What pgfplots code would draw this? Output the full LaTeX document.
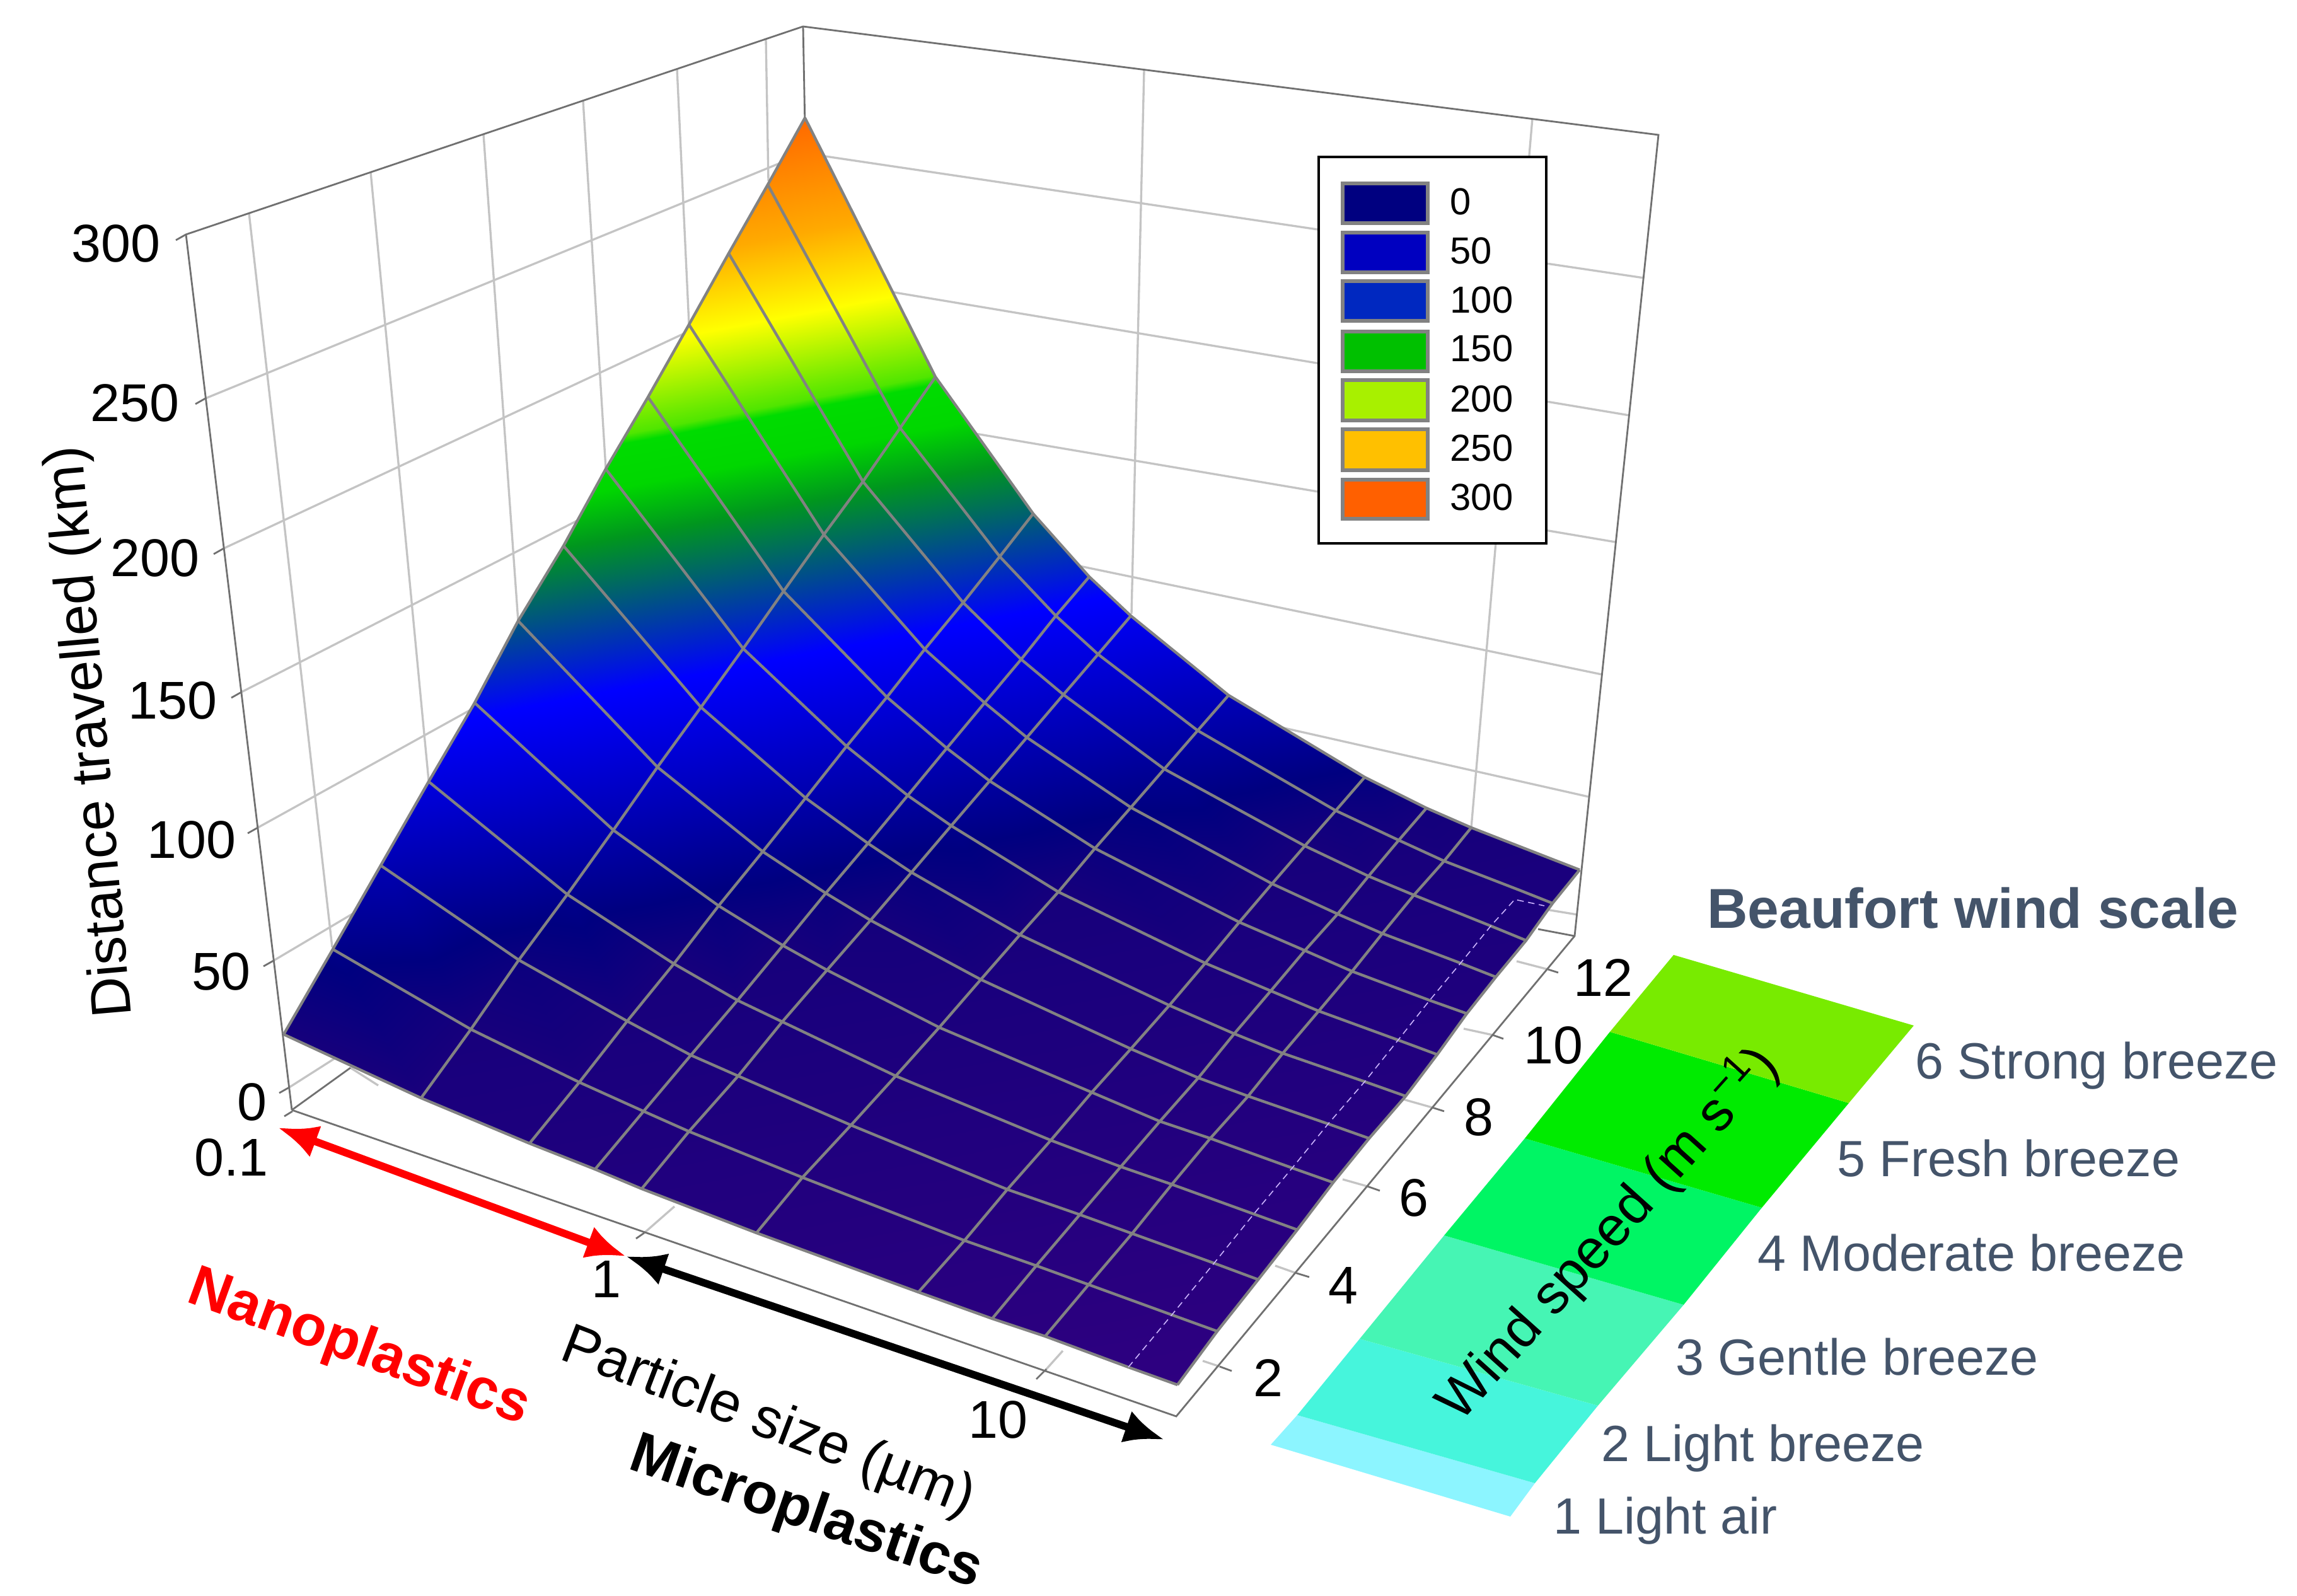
\documentclass[border=0pt]{standalone}
\usepackage{fontspec}
\setmainfont{Liberation Sans}
\usepackage{pgfplots}
\usepackage{pgfplotstable}
\usetikzlibrary{arrows.meta}
\pgfplotsset{compat=1.18}

\definecolor{gridc}{RGB}{196,196,196}
\definecolor{boxc}{RGB}{112,112,112}
\definecolor{meshc}{RGB}{130,130,130}
\definecolor{slate}{RGB}{68,84,106}
\newcommand{\fs}[1]{\fontsize{#1}{#1}\selectfont}

% surface vertices: px py are positions on the page (perspective view),
% km is the distance. 13 wind rows, 11 particle sizes per row
\pgfplotstableread{
px py km
450 1641 25.0
668 1742 22.4
840 1814 20.5
944 1855 19.4
1018 1886 18.6
1200 1956 16.7
1457 2050 14.1
1574 2092 12.9
1658 2120 12.1
1790 2169 10.8
1868 2197 10.0
528 1506 49.6
747 1633 24.1
919 1717 22.0
1021 1763 20.8
1093 1795 20.0
1273 1868 18.0
1530 1968 15.3
1644 2008 14.2
1727 2038 13.4
1859 2086 12.0
1931 2112 11.3
604 1373 73.6
823 1523 34.8
995 1620 23.5
1096 1674 22.2
1171 1707 21.3
1350 1785 19.3
1598 1887 16.6
1713 1927 15.4
1796 1957 14.6
1926 2004 13.3
1996 2030 12.6
680 1240 97.9
900 1419 52.9
1069 1529 24.9
1170 1587 23.5
1241 1621 22.6
1421 1707 20.4
1667 1809 17.7
1778 1851 16.6
1859 1879 15.8
1989 1926 14.5
2058 1951 13.8
753 1115 120.4
973 1317 70.8
1140 1437 39.9
1242 1500 24.8
1312 1539 23.9
1490 1630 21.6
1732 1733 18.9
1840 1779 17.7
1920 1806 16.9
2050 1853 15.6
2115 1876 15.0
822 985 144.3
1043 1217 88.5
1210 1351 54.7
1310 1417 37.4
1381 1460 26.0
1556 1554 22.8
1794 1664 19.9
1901 1710 18.7
1980 1739 17.9
2107 1783 16.7
2172 1806 16.0
894 866 165.6
1112 1122 105.2
1278 1266 69.4
1377 1338 50.8
1446 1384 38.8
1618 1483 23.9
1855 1595 21.0
1958 1640 19.8
2035 1671 19.0
2165 1716 17.7
2230 1739 17.1
961 744 187.8
1179 1029 121.5
1343 1184 83.6
1440 1262 63.9
1509 1310 51.5
1679 1415 24.9
1912 1528 22.0
2016 1572 20.9
2092 1604 20.0
2218 1650 18.7
2280 1673 18.1
1028 630 208.6
1243 938 137.5
1407 1106 97.0
1502 1187 76.9
1570 1239 63.7
1737 1346 35.4
1966 1463 23.0
2070 1508 21.8
2145 1541 21.0
2268 1587 19.7
2327 1608 19.1
1093 515 229.3
1307 848 153.4
1467 1030 110.0
1562 1115 89.1
1629 1170 75.3
1794 1281 46.4
2018 1402 23.9
2122 1450 22.7
2193 1481 21.9
2317 1528 20.6
2373 1550 20.0
1156 402 249.9
1369 764 168.0
1528 956 122.9
1620 1046 100.9
1687 1102 86.9
1847 1220 56.7
2070 1342 24.9
2171 1390 23.6
2243 1420 22.8
2365 1469 21.5
2421 1492 20.9
1218 293 269.8
1428 679 183.1
1586 883 135.5
1675 977 112.9
1742 1038 97.9
1900 1159 67.1
2119 1286 32.7
2219 1333 24.5
2291 1366 23.7
2410 1412 22.4
2463 1433 21.8
1277 187 288.9
1484 598 197.4
1639 815 147.3
1728 915 123.5
1794 977 108.2
1949 1103 76.7
2165 1233 41.9
2263 1282 28.1
2334 1313 24.5
2452 1359 23.2
2506 1380 22.7
}\surfdata

\begin{document}
\begin{tikzpicture}
\begin{axis}[
  scale only axis,
  width=36.44cm, height=25.32cm,
  xmin=0, xmax=3644, ymin=0, ymax=2532,
  y dir=reverse,
  hide axis, clip=false,
  colormap={distance}{
    rgb255(10pt)=(46,0,128);
    rgb255(25pt)=(22,0,124);
    rgb255(45pt)=(0,0,128);
    rgb255(116pt)=(0,0,255);
    rgb255(165pt)=(0,150,30);
    rgb255(181pt)=(0,215,0);
    rgb255(195pt)=(0,220,0);
    rgb255(198pt)=(80,230,0);
    rgb255(226pt)=(255,255,0);
    rgb255(252pt)=(255,170,0);
    rgb255(300pt)=(255,85,0);
  },
  point meta min=10, point meta max=300,
  grid line/.style={gridc, line width=0.95pt},
  box line/.style={boxc, line width=0.8pt},
  wire/.style={meshc, line width=1.25pt, no marks},
]
% page frame, so that the picture keeps the reference's size
\path (0,0) -- (3644,2532);
% left wall
\addplot[grid line] coordinates {(326,632) (1276,243)};
\addplot[grid line] coordinates {(355,870) (1276,440)};
\addplot[grid line] coordinates {(383,1098) (1276,642)};
\addplot[grid line] coordinates {(409,1313) (1276,833)};
\addplot[grid line] coordinates {(434,1524) (1276,1025)};
\addplot[grid line] coordinates {(459,1725) (1276,1205)};
\addplot[grid line] coordinates {(395,338) (527,1503)};
\addplot[grid line] coordinates {(588,273) (680,1238)};
\addplot[grid line] coordinates {(767,213) (822,985)};
\addplot[grid line] coordinates {(925,160) (961,743)};
\addplot[grid line] coordinates {(1074,109) (1093,514)};
\addplot[grid line] coordinates {(1215,62) (1219,287)};
% right wall
\addplot[grid line] coordinates {(1276,243) (2608,441)};
\addplot[grid line] coordinates {(1276,440) (2585,659)};
\addplot[grid line] coordinates {(1276,642) (2563,860)};
\addplot[grid line] coordinates {(1650,885) (2541,1070)};
\addplot[grid line] coordinates {(1900,1124) (2520,1264)};
\addplot[grid line] coordinates {(2300,1418) (2502,1451)};
\addplot[grid line] coordinates {(1815,111) (1795,974)};
\addplot[grid line] coordinates {(2431,188) (2334,1313)};
% floor stubs
\addplot[grid line] coordinates {(1908,2159) (1935,2168)};
\addplot[grid line] coordinates {(2023,2008) (2054,2019)};
\addplot[grid line] coordinates {(2130,1871) (2169,1882)};
\addplot[grid line] coordinates {(2226,1744) (2272,1757)};
\addplot[grid line] coordinates {(2322,1632) (2368,1642)};
\addplot[grid line] coordinates {(2406,1525) (2456,1538)};
\addplot[grid line] coordinates {(1070,1914) (1022,1956)};
\addplot[grid line] coordinates {(1686,2143) (1660,2172)};
\addplot[grid line] coordinates {(556,1694) (600,1722)};
% box
\addplot[box line] coordinates {(463,1761) (295,372) (1274,42) (2631,214) (2498,1485) (1866,2247) (463,1761)};
\addplot[box line] coordinates {(1274,42) (1277,200)};
\addplot[box line] coordinates {(463,1761) (556,1694)};
\addplot[box line] coordinates {(2498,1485) (2440,1474)};

% surface
\addplot[surf, shader=interp, mesh/cols=11, point meta=\thisrow{km}] table[x=px, y=py] {\surfdata};
\pgfplotsinvokeforeach{0,1,2,3,4,5,6,7,8,10}{
  \addplot[wire, x filter/.expression={mod(\coordindex,11)==#1 ? x : nan}] table[x=px, y=py] {\surfdata};
}
\pgfplotsinvokeforeach{0,...,12}{
  \addplot[wire, x filter/.expression={(\coordindex>=11*#1 && \coordindex<11*(#1+1)) ? x : nan}] table[x=px, y=py] {\surfdata};
}
\addplot[color={rgb,255:red,205;green,180;blue,255}, line width=0.45pt, densely dashed] coordinates {
  (1790,2169) (1859,2086) (1926,2004) (1989,1926) (2050,1853) (2107,1783)
  (2165,1716) (2218,1650) (2268,1587) (2317,1528) (2365,1469) (2403,1427) (2450,1437)};

% ticks
\addplot[box line] coordinates {(295,372) (279,381)};
\addplot[box line] coordinates {(326,632) (310,641)};
\addplot[box line] coordinates {(355,870) (339,879)};
\addplot[box line] coordinates {(383,1098) (367,1107)};
\addplot[box line] coordinates {(409,1313) (393,1322)};
\addplot[box line] coordinates {(434,1524) (418,1533)};
\addplot[box line] coordinates {(459,1725) (443,1734)};
\addplot[box line] coordinates {(464,1763) (451,1771)};
\addplot[box line] coordinates {(1022,1956) (1009,1965)};
\addplot[box line] coordinates {(1660,2172) (1644,2188)};
\addplot[box line] coordinates {(1935,2168) (1954,2175)};
\addplot[box line] coordinates {(2054,2019) (2077,2026)};
\addplot[box line] coordinates {(2169,1882) (2189,1889)};
\addplot[box line] coordinates {(2272,1757) (2291,1763)};
\addplot[box line] coordinates {(2368,1642) (2385,1648)};
\addplot[box line] coordinates {(2456,1538) (2472,1543)};

% tick labels
\node[font=\fs{24}] at (184,386) {300};
\node[font=\fs{24}] at (214,639) {250};
\node[font=\fs{24}] at (246,885) {200};
\node[font=\fs{24}] at (274,1111) {150};
\node[font=\fs{24}] at (304,1332) {100};
\node[font=\fs{24}] at (351,1541) {50};
\node[font=\fs{24}] at (400,1748) {0};
\node[font=\fs{24}] at (367,1836) {0.1};
\node[font=\fs{24}] at (962,2029) {1};
\node[font=\fs{24}] at (1583,2252) {10};
\node[font=\fs{24}] at (2012,2186) {2};
\node[font=\fs{24}] at (2131,2039) {4};
\node[font=\fs{24}] at (2243,1900) {6};
\node[font=\fs{24}] at (2346,1772) {8};
\node[font=\fs{24}] at (2464,1658) {10};
\node[font=\fs{24}] at (2543,1551) {12};

% beaufort strip
\addplot[fill={rgb,255:red,140;green,245;blue,255}, draw=none] coordinates {(2016,2292) (2058,2245) (2435,2353) (2396,2406)} -- cycle;
\addplot[fill={rgb,255:red,70;green,245;blue,220}, draw=none] coordinates {(2058,2245) (2157,2124) (2535,2230) (2435,2353)} -- cycle;
\addplot[fill={rgb,255:red,70;green,245;blue,180}, draw=none] coordinates {(2157,2124) (2291,1960) (2671,2070) (2535,2230)} -- cycle;
\addplot[fill={rgb,255:red,0;green,245;blue,100}, draw=none] coordinates {(2291,1960) (2419,1806) (2795,1916) (2671,2070)} -- cycle;
\addplot[fill={rgb,255:red,0;green,235;blue,0}, draw=none] coordinates {(2419,1806) (2554,1637) (2933,1750) (2795,1916)} -- cycle;
\addplot[fill={rgb,255:red,120;green,235;blue,0}, draw=none] coordinates {(2554,1637) (2655,1515) (3036,1627) (2933,1750)} -- cycle;

\node[anchor=west, text=slate, font=\fs{23}] at (3026,1691) {6 Strong breeze};
\node[anchor=west, text=slate, font=\fs{23}] at (2902,1838) {5 Fresh breeze};
\node[anchor=west, text=slate, font=\fs{23}] at (2776,1988) {4 Moderate breeze};
\node[anchor=west, text=slate, font=\fs{23}] at (2646,2153) {3 Gentle breeze};
\node[anchor=west, text=slate, font=\fs{23}] at (2528,2298) {2 Light breeze};
\node[anchor=west, text=slate, font=\fs{23}] at (2452,2413) {1 Light air};
\node[text=slate, font=\bfseries\fs{25.4}] at (3130,1441) {Beaufort wind scale};

% axis titles
\node[rotate=95, font=\fs{25.3}] at (146,1161) {Distance travelled (km)};
\node[rotate=-21, font=\fs{25.5}] at (1218,2258) {Particle size (µm)};
\node[rotate=48, font=\fs{25}] at (2550,1957) {Wind speed (m s\textsuperscript{−1})};
\node[rotate=-20, text=red, font=\bfseries\fs{26}] at (569,2140) {Nanoplastics};
\node[overlay, rotate=-19, font=\bfseries\fs{26}] at (1278,2402) {Microplastics};

% size ranges
\draw[red, line width=3.4pt, {Latex[length=18pt,width=15pt]}-{Latex[length=18pt,width=15pt]}] (441,1789) -- (993,1993);
\draw[black, line width=3.4pt, {Latex[length=18pt,width=15pt]}-{Latex[length=18pt,width=15pt]}] (993,1993) -- (1847,2284);

% legend
\draw[black, line width=1.1pt, fill=white] (2092,249) rectangle (2453,862);
\foreach \ya/\yb/\cr/\cg/\cb/\lab/\yt in {
  291/354/0/0/128/0/320,
  369/432/0/0/192/50/398,
  446/509/0/40/192/100/476,
  526/589/0/192/0/150/553,
  603/667/168/240/0/200/633,
  681/746/255/192/0/250/711,
  761/823/255/96/0/300/789}{
  \edef\tmp{\noexpand\draw[meshc, line width=1.5pt, fill={rgb,255:red,\cr;green,\cg;blue,\cb}] (axis cs:2130,\ya) rectangle (axis cs:2265,\yb);
    \noexpand\node[anchor=west, inner sep=0pt, font=\noexpand\fs{17}] at (axis cs:2300,\yt) {\lab};}
  \tmp
}
\end{axis}
\end{tikzpicture}
\end{document}
